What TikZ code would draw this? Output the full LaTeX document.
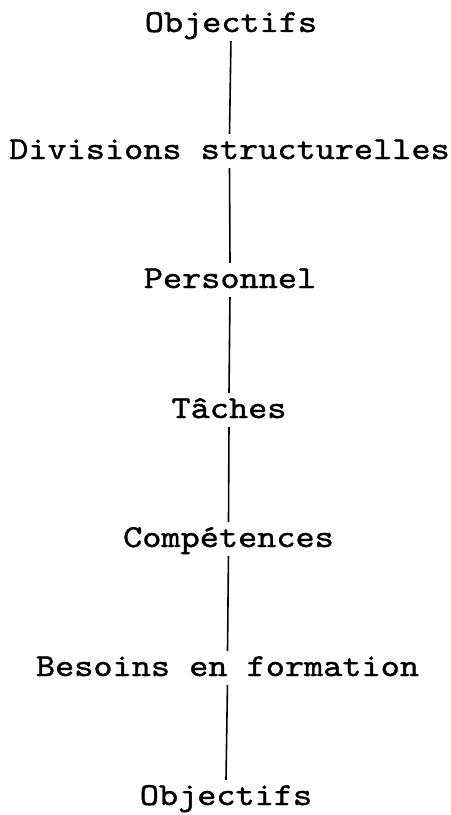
\documentclass[tikz,border=0pt]{standalone}
\usepackage{fontspec}
\setmonofont{lmmono10-regular.otf}[FakeStretch=1.14, FakeBold=1.2]
\begin{document}
\begin{tikzpicture}[x=1bp,y=-1bp,
  lbl/.style={font=\ttfamily\fontsize{32bp}{36bp}\selectfont, anchor=base,
    text height=19bp, text depth=0pt, inner xsep=0pt, inner ysep=6bp},
  link/.style={line width=1.6bp, shorten <=3bp}]
\useasboundingbox (0,0) rectangle (451,815);
\node[lbl] (o1) at (231,32) {Objectifs};
\node[lbl] (d)  at (229.5,159) {Divisions structurelles};
\node[lbl] (p)  at (230,288) {Personnel};
\node[lbl] (t)  at (229,418) {Tâches};
\node[lbl] (c)  at (228.5,547) {Compétences};
\node[lbl] (b)  at (227.5,676) {Besoins en formation};
\node[lbl] (o2) at (226,805) {Objectifs};
\draw[link] (o1.south) -- (d.north);
\draw[link] (d.south) -- (p.north);
\draw[link] (p.south) -- (t.north);
\draw[link] (t.south) -- (c.north);
\draw[link] (c.south) -- (b.north);
\draw[link] (b.south) -- (o2.north);
\end{tikzpicture}
\end{document}
